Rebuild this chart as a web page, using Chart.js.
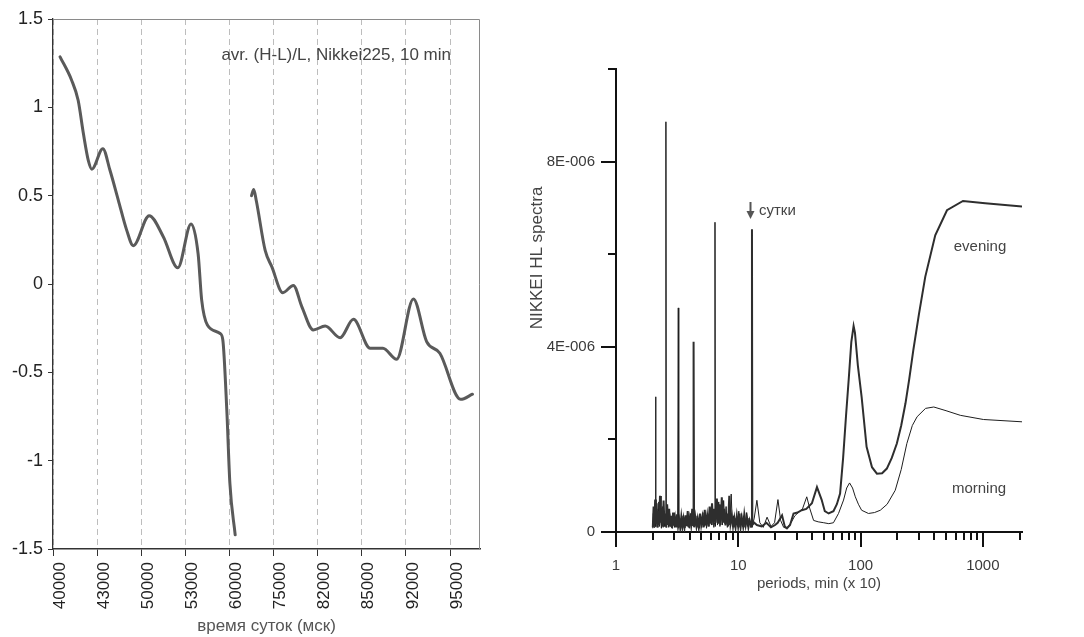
<!DOCTYPE html>
<html><head><meta charset="utf-8">
<script src="https://cdn.jsdelivr.net/npm/chart.js@4.4.1/dist/chart.umd.min.js"></script>
<style>
html,body{margin:0;padding:0;background:#fff;}
#wrap{position:relative;width:1084px;height:637px;overflow:hidden;background:#fff;}
#c1{position:absolute;left:0;top:0;}
#c2{position:absolute;left:500px;top:0;}
</style></head><body>
<div id="wrap"><canvas id="c1" width="500" height="637"></canvas><canvas id="c2" width="584" height="637"></canvas></div>
<script>
const FONT = '"Liberation Sans", Arial, sans-serif';

// ---------- left chart data ----------
const timeLabels = ['40000','43000','50000','53000','60000','75000','82000','85000','92000','95000'];
// position along the time axis, in label steps (0 = 40000, 1 = 43000, ...)
const timePos = [
  0.16,0.42,0.57,0.69,0.80,0.88,1.13,1.29,1.48,1.67,
  1.82,2.18,2.50,2.83,3.13,3.29,3.37,3.50,3.79,3.85,
  3.94,4.01,4.13,
  4.30,
  4.50,4.55,4.61,4.81,4.96,5.21,5.45,5.64,5.90,6.17,
  6.51,6.81,7.19,7.48,7.79,8.17,8.47,8.77,9.24,9.51
];
const hlValues = [
  1.286,1.155,1.04,0.85,0.70,0.65,0.766,0.645,0.475,0.305,
  0.217,0.387,0.268,0.092,0.34,0.17,-0.09,-0.232,-0.28,-0.317,
  -0.713,-1.128,-1.42,
  null,
  0.50,0.535,0.47,0.19,0.098,-0.049,-0.008,-0.128,-0.26,-0.238,
  -0.304,-0.2,-0.364,-0.364,-0.426,-0.085,-0.326,-0.392,-0.653,-0.624
];
const leftYTicks = [-1.5,-1,-0.5,0,0.5,1,1.5];
const annotationText = 'avr. (H-L)/L, Nikkei225, 10 min';

// ---------- right chart data (spectrum values in units of 1E-006) ----------
const eveningPeriods = [
  2.00,2.03,2.06,2.09,2.12,2.15,2.18,2.22,2.25,2.29,
  2.33,2.37,2.41,2.45,2.49,2.53,2.58,2.62,2.67,2.72,
  2.77,2.82,2.87,2.93,2.98,3.04,3.10,3.16,3.22,3.29,
  3.35,3.42,3.49,3.56,3.63,3.70,3.78,3.86,3.94,4.02,
  4.11,4.20,4.27,4.31,4.35,4.45,4.55,4.65,4.75,4.86,
  4.97,5.08,5.20,5.32,5.44,5.57,5.70,5.83,5.96,6.10,
  6.24,6.38,6.53,6.68,6.84,7.00,7.16,7.33,7.50,7.68,
  7.86,8.05,8.24,8.44,8.64,8.85,9.06,9.28,9.50,9.73,
  9.97,10.2,10.45,10.7,10.96,11.2,11.5,11.8,12.1,12.4,
  12.7,12.85,12.94,13.03,13.5,14.2,15.5,17,18.5,20,
  21,22.8,24,25,26.5,28.3,30.5,33,36,40,
  44,48,51,54.8,60,64,68,72,76,80,
  84,87.7,90,95,102,112,124,136,150,164,
  180,198,215,233,250,270,300,338,408,509,
  688,1045,2090
];
const eveningSpectrum = [
  0.10,0.55,0.12,0.70,0.18,0.62,0.10,0.45,0.15,0.78,
  0.20,0.52,0.12,0.68,0.18,0.40,0.10,0.60,0.15,0.50,
  0.12,0.35,0.08,0.42,0.14,0.30,0.10,0.38,0.12,0.26,
  0.09,0.33,0.11,0.28,0.10,0.36,0.13,0.45,0.10,0.30,
  0.14,0.50,0.15,4.11,0.10,0.32,0.12,0.28,0.10,0.40,
  0.15,0.32,0.10,0.48,0.14,0.36,0.12,0.55,0.18,0.62,
  0.15,0.50,0.20,0.72,0.18,0.60,0.15,0.75,0.20,0.50,
  0.14,0.40,0.12,0.78,0.18,0.35,0.12,0.30,0.10,0.35,
  0.12,0.40,0.10,0.30,0.12,0.38,0.14,0.30,0.10,0.25,
  0.15,0.12,6.54,0.15,0.20,0.15,0.12,0.20,0.10,0.15,
  0.20,0.36,0.12,0.08,0.15,0.40,0.42,0.47,0.50,0.62,
  0.97,0.70,0.45,0.40,0.45,0.60,0.83,1.60,2.50,3.30,
  4.10,4.45,4.30,3.60,2.92,1.84,1.40,1.26,1.27,1.37,
  1.60,1.91,2.30,2.78,3.30,3.93,4.70,5.51,6.41,6.95,
  7.15,7.10,7.03
];
const morningPeriods = [
  2.00,2.02,2.05,2.08,2.10,2.11,2.12,2.16,2.20,2.24,
  2.27,2.31,2.35,2.39,2.43,2.47,2.51,2.54,2.56,2.58,
  2.64,2.70,2.75,2.80,2.85,2.90,2.96,3.01,3.07,3.13,
  3.19,3.23,3.26,3.32,3.39,3.46,3.53,3.60,3.67,3.74,
  3.82,3.90,3.98,4.06,4.15,4.24,4.40,4.50,4.60,4.70,
  4.80,4.92,5.02,5.14,5.26,5.38,5.50,5.63,5.76,5.90,
  6.03,6.17,6.31,6.40,6.45,6.50,6.60,6.76,6.92,7.08,
  7.25,7.42,7.59,7.77,7.95,8.14,8.34,8.54,8.75,8.95,
  9.17,9.39,9.61,9.85,10.1,10.33,10.58,10.83,11.1,11.35,
  11.65,11.95,12.25,12.6,13.0,13.5,14.2,15.0,16.0,17.2,
  18.5,19.8,21.1,22.2,23.5,25,27,29,31,33.5,
  36.3,38.5,41.3,45,50,55,60,66,72.6,77,
  81.3,86,90.6,96,102,116,130,145,165,192,
  215,239,265,290,340,397,500,654,1010,2090
];
const morningSpectrum = [
  0.08,0.40,0.10,0.60,0.15,2.92,0.12,0.50,0.10,0.65,
  0.12,0.42,0.08,0.55,0.10,0.38,0.12,0.15,8.86,0.10,
  0.45,0.10,0.40,0.12,0.28,0.08,0.35,0.10,0.25,0.12,
  0.15,4.84,0.10,0.30,0.08,0.35,0.10,0.22,0.09,0.30,
  0.12,0.26,0.08,0.40,0.10,0.30,0.12,0.35,0.10,0.25,
  0.08,0.30,0.10,0.42,0.12,0.30,0.08,0.40,0.12,0.50,
  0.15,0.38,0.10,0.20,6.69,0.12,0.55,0.15,0.65,0.12,
  0.40,0.15,0.68,0.18,0.55,0.10,0.45,0.15,0.82,0.12,
  0.35,0.10,0.30,0.12,0.45,0.10,0.40,0.12,0.35,0.10,
  0.42,0.12,0.30,0.10,0.12,0.30,0.685,0.20,0.10,0.32,
  0.12,0.20,0.70,0.25,0.10,0.08,0.20,0.35,0.42,0.50,
  0.76,0.50,0.25,0.22,0.20,0.18,0.20,0.40,0.69,0.95,
  1.06,0.95,0.76,0.60,0.47,0.40,0.42,0.47,0.60,0.90,
  1.35,1.91,2.30,2.49,2.67,2.70,2.62,2.52,2.43,2.38
];
const spectrumTicks = [0,2,4,6,8,10];
const spectrumLabels = {0:'0', 4:'4E-006', 8:'8E-006'};
const periodTicks = [1,2,3,4,5,6,7,8,9,10,20,30,40,50,60,70,80,90,100,200,300,400,500,600,700,800,900,1000,2000];
const periodLabels = [1,10,100,1000];

// ---------- left chart ----------
const leftDecor = {
  id: 'leftDecor',
  afterDraw(chart) {
    const {ctx, chartArea: a} = chart;
    ctx.save();
    ctx.strokeStyle = '#8a8a8a';
    ctx.lineWidth = 1;
    ctx.beginPath();
    ctx.moveTo(a.left, a.top + 0.5);
    ctx.lineTo(a.right - 0.5, a.top + 0.5);
    ctx.lineTo(a.right - 0.5, a.bottom);
    ctx.stroke();
    ctx.fillStyle = '#444';
    ctx.font = '17px ' + FONT;
    ctx.textAlign = 'right';
    ctx.textBaseline = 'middle';
    ctx.fillText(annotationText, a.right - 29, a.top + 36);
    ctx.restore();
  }
};

new Chart(document.getElementById('c1'), {
  type: 'line',
  data: {
    datasets: [{
      data: timePos.map((p, i) => ({x: p, y: hlValues[i]})),
      borderColor: '#5a5a5a',
      borderWidth: 3,
      pointRadius: 0,
      cubicInterpolationMode: 'monotone',
      spanGaps: false,
      borderCapStyle: 'round',
      borderJoinStyle: 'round'
    }]
  },
  options: {
    responsive: false,
    animation: false,
    devicePixelRatio: 1,
    layout: {padding: {top: 19, right: 20, left: 0, bottom: 0}},
    plugins: {legend: {display: false}, tooltip: {enabled: false}},
    scales: {
      x: {
        type: 'linear',
        min: 0, max: 9.68,
        afterFit: s => { s.height = 88; },
        border: {display: true, color: '#333', width: 1.5, dash: [6, 4]},
        grid: {color: '#bdbdbd', lineWidth: 1, drawTicks: true, tickLength: 7, tickColor: '#333', tickBorderDash: []},
        ticks: {
          stepSize: 1, includeBounds: false, autoSkip: false,
          minRotation: 90, maxRotation: 90, labelOffset: 7, padding: 6,
          color: '#222', font: {family: FONT, size: 17},
          callback: v => (Number.isInteger(v) && timeLabels[v] !== undefined) ? timeLabels[v] : ''
        },
        title: {display: true, text: 'время суток (мск)', color: '#555', font: {family: FONT, size: 17}, padding: {top: 0, bottom: 0}}
      },
      y: {
        min: -1.5, max: 1.5,
        afterFit: s => { s.width = 53; },
        border: {display: true, color: '#333', width: 1.3},
        grid: {drawOnChartArea: false, drawTicks: true, tickLength: 5, tickColor: '#333'},
        ticks: {
          stepSize: 0.5, padding: 5, color: '#222', font: {family: FONT, size: 18},
          callback: v => leftYTicks.includes(v) ? String(v) : ''
        }
      }
    }
  },
  plugins: [leftDecor]
});

// ---------- right chart ----------
const rightDecor = {
  id: 'rightDecor',
  afterDraw(chart) {
    const {ctx, chartArea: a, scales: {x, y}} = chart;
    ctx.save();
    ctx.strokeStyle = '#111';
    ctx.lineWidth = 2;
    ctx.beginPath();
    spectrumTicks.forEach(v => {
      const py = Math.round(y.getPixelForValue(v));
      const len = spectrumLabels[v] !== undefined ? 15 : 8;
      ctx.moveTo(a.left, py);
      ctx.lineTo(a.left - len, py);
    });
    periodTicks.forEach(v => {
      const px = Math.round(x.getPixelForValue(v));
      const len = periodLabels.includes(v) ? 15 : 8;
      ctx.moveTo(px, a.bottom);
      ctx.lineTo(px, a.bottom + len);
    });
    ctx.stroke();

    ctx.fillStyle = '#444';
    // y axis title
    ctx.save();
    ctx.translate(37, 258);
    ctx.rotate(-Math.PI / 2);
    ctx.font = '17px ' + FONT;
    ctx.textAlign = 'center';
    ctx.textBaseline = 'middle';
    ctx.fillText('NIKKEI HL spectra', 0, 0);
    ctx.restore();

    // down arrow pointing at the daily peak
    ctx.fillStyle = '#555';
    ctx.strokeStyle = '#555';
    ctx.lineWidth = 2;
    ctx.beginPath();
    ctx.moveTo(250.5, 202);
    ctx.lineTo(250.5, 212);
    ctx.stroke();
    ctx.beginPath();
    ctx.moveTo(246.5, 211);
    ctx.lineTo(254.5, 211);
    ctx.lineTo(250.5, 219);
    ctx.closePath();
    ctx.fill();

    ctx.fillStyle = '#444';
    ctx.textBaseline = 'middle';
    ctx.font = '15px ' + FONT;
    ctx.textAlign = 'left';
    ctx.fillText('сутки', 259, 211);
    ctx.textAlign = 'center';
    ctx.fillText('evening', 480, 247);
    ctx.fillText('morning', 479, 489);
    ctx.restore();
  }
};

new Chart(document.getElementById('c2'), {
  type: 'line',
  data: {
    datasets: [
      {
        label: 'evening',
        data: eveningPeriods.map((p, i) => ({x: p, y: eveningSpectrum[i]})),
        borderColor: '#2e2e2e', borderWidth: 2, pointRadius: 0, tension: 0
      },
      {
        label: 'morning',
        data: morningPeriods.map((p, i) => ({x: p, y: morningSpectrum[i]})),
        borderColor: '#1e1e1e', borderWidth: 1, pointRadius: 0, tension: 0
      }
    ]
  },
  options: {
    responsive: false,
    animation: false,
    devicePixelRatio: 1,
    layout: {padding: {top: 69, right: 62, left: 0, bottom: 0}},
    plugins: {legend: {display: false}, tooltip: {enabled: false}},
    scales: {
      x: {
        type: 'logarithmic',
        min: 1, max: 2090,
        afterFit: s => { s.height = 105; },
        border: {display: true, color: '#111', width: 2},
        grid: {display: false, drawTicks: false},
        ticks: {
          autoSkip: false, maxRotation: 0, minRotation: 0, padding: 25,
          color: '#3a3a3a', font: {family: FONT, size: 15},
          callback: v => periodLabels.some(t => Math.abs(t - v) < 1e-6) ? String(Math.round(v)) : ''
        },
        title: {display: true, text: 'periods, min (x 10)', color: '#444', font: {family: FONT, size: 15}, padding: {top: 0, bottom: 44}}
      },
      y: {
        min: 0, max: 10,
        afterFit: s => { s.width = 116; },
        border: {display: true, color: '#111', width: 2},
        grid: {display: false, drawTicks: false},
        ticks: {
          stepSize: 2, padding: 21, color: '#3a3a3a', font: {family: FONT, size: 15},
          callback: v => spectrumLabels[v] !== undefined ? spectrumLabels[v] : ''
        }
      }
    }
  },
  plugins: [rightDecor]
});
</script>
</body></html>
